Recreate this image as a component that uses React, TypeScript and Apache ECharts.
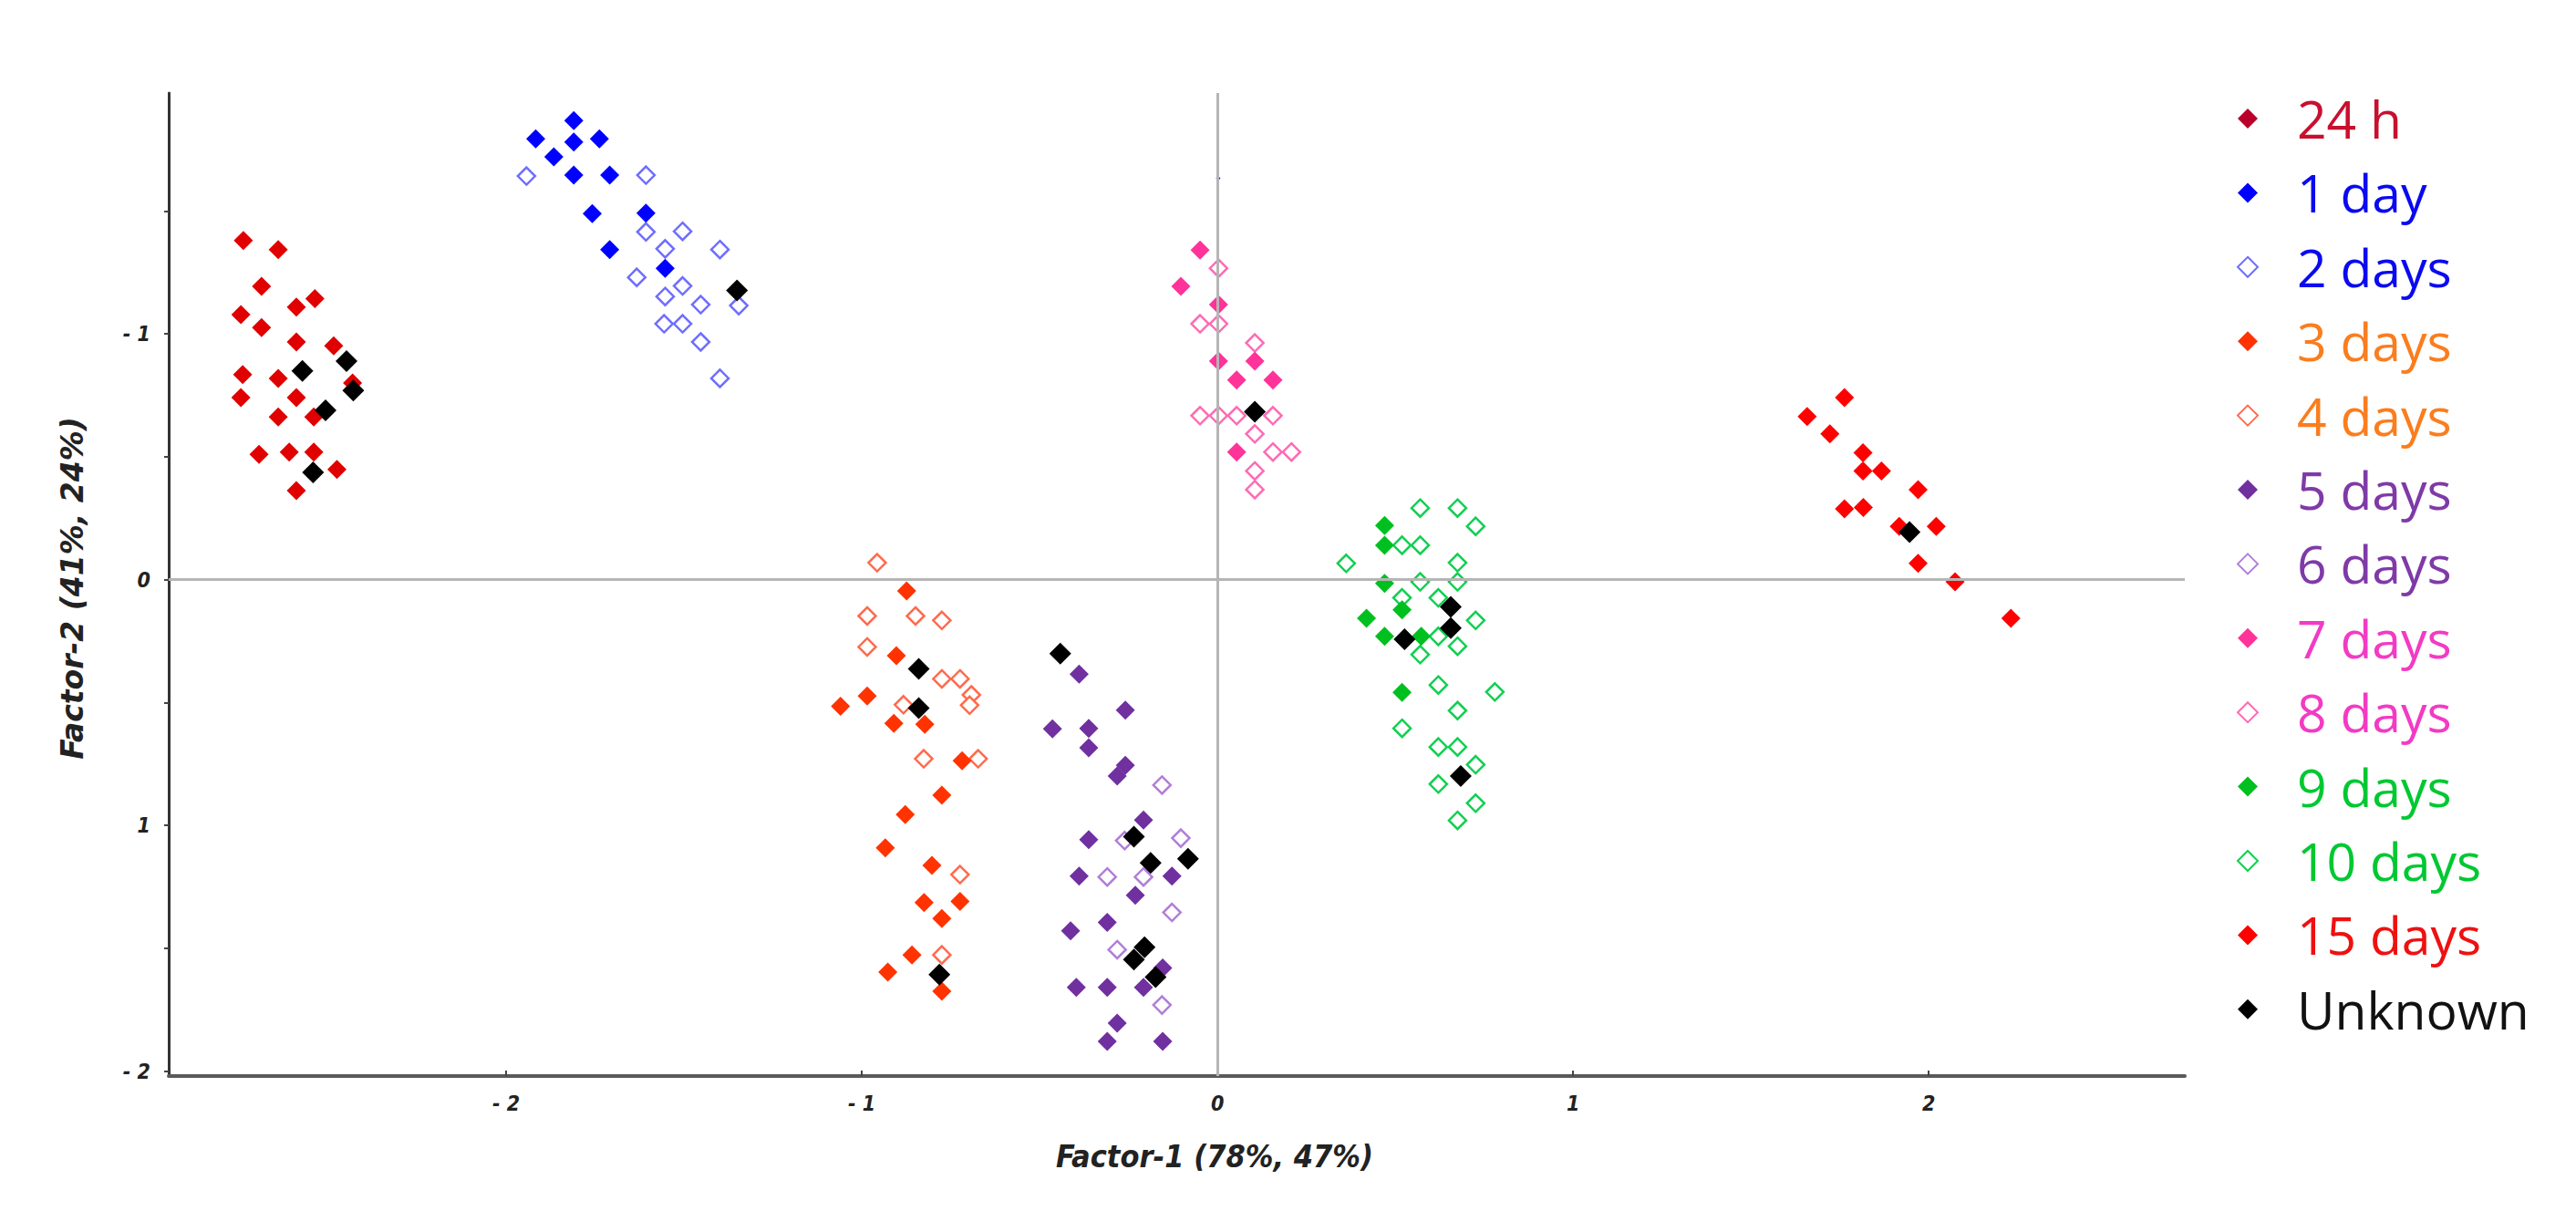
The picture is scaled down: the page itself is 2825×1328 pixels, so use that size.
import React, { useEffect, useRef } from "react";
import * as echarts from "echarts";

// ---- data (Factor-1, Factor-2) ----
const seriesNames = ["24 h", "1 day", "2 days", "3 days", "4 days", "5 days", "6 days", "7 days", "8 days", "9 days", "10 days", "15 days", "Unknown"];

const h24 = [[-2.739,-1.380],[-2.641,-1.343],[-2.688,-1.193],[-2.538,-1.143],[-2.590,-1.109],[-2.746,-1.078],[-2.688,-1.025],[-2.590,-0.967],[-2.485,-0.951],[-2.741,-0.834],[-2.641,-0.819],[-2.432,-0.800],[-2.746,-0.741],[-2.590,-0.741],[-2.641,-0.662],[-2.541,-0.662],[-2.695,-0.510],[-2.610,-0.519],[-2.541,-0.519],[-2.476,-0.448],[-2.590,-0.362]];
const day1 = [[-1.810,-1.868],[-1.917,-1.794],[-1.810,-1.781],[-1.738,-1.794],[-1.866,-1.720],[-1.810,-1.646],[-1.709,-1.646],[-1.758,-1.489],[-1.607,-1.491],[-1.709,-1.343],[-1.553,-1.267]];
const day1Stray = [0.002, -1.633];
const day2 = [[-1.943,-1.642],[-1.607,-1.646],[-1.607,-1.415],[-1.504,-1.417],[-1.553,-1.346],[-1.399,-1.343],[-1.633,-1.230],[-1.504,-1.195],[-1.553,-1.152],[-1.453,-1.119],[-1.346,-1.115],[-1.556,-1.041],[-1.504,-1.041],[-1.453,-0.967],[-1.399,-0.819]];
const day3 = [[-0.874,0.046],[-0.903,0.309],[-0.985,0.474],[-1.060,0.515],[-0.910,0.585],[-0.823,0.589],[-0.718,0.737],[-0.775,0.877],[-0.878,0.956],[-0.934,1.091],[-0.803,1.163],[-0.825,1.314],[-0.724,1.309],[-0.775,1.379],[-0.859,1.527],[-0.927,1.597],[-0.775,1.675]];
const day4 = [[-0.957,-0.069],[-0.985,0.148],[-0.849,0.148],[-0.775,0.166],[-0.985,0.274],[-0.775,0.404],[-0.724,0.404],[-0.692,0.469],[-0.697,0.511],[-0.883,0.509],[-0.826,0.729],[-0.673,0.729],[-0.724,1.200],[-0.775,1.527]];
const day5 = [[-0.389,0.385],[-0.259,0.531],[-0.464,0.607],[-0.362,0.605],[-0.362,0.684],[-0.259,0.756],[-0.282,0.799],[-0.208,0.978],[-0.362,1.058],[-0.389,1.206],[-0.128,1.206],[-0.231,1.284],[-0.310,1.395],[-0.413,1.429],[-0.154,1.580],[-0.397,1.659],[-0.310,1.659],[-0.208,1.659],[-0.282,1.805],[-0.310,1.879],[-0.154,1.879]];
const day6 = [[-0.156,0.836],[-0.261,1.062],[-0.103,1.052],[-0.310,1.210],[-0.208,1.210],[-0.128,1.354],[-0.282,1.506],[-0.156,1.731]];
const day7 = [[-0.049,-1.341],[-0.103,-1.193],[0.003,-1.119],[0.003,-0.889],[0.105,-0.889],[0.054,-0.812],[0.156,-0.812],[0.054,-0.519]];
const day8 = [[0.003,-1.267],[-0.049,-1.041],[0.003,-1.041],[0.105,-0.963],[-0.049,-0.667],[0.003,-0.667],[0.054,-0.667],[0.156,-0.667],[0.105,-0.593],[0.156,-0.519],[0.208,-0.519],[0.105,-0.442],[0.105,-0.366]];
const day9 = [[0.470,-0.220],[0.470,-0.140],[0.470,0.015],[0.519,0.123],[0.419,0.157],[0.470,0.231],[0.573,0.231],[0.519,0.459]];
const day10 = [[0.570,-0.291],[0.675,-0.291],[0.726,-0.217],[0.519,-0.140],[0.570,-0.140],[0.362,-0.066],[0.675,-0.069],[0.570,0.009],[0.675,0.009],[0.519,0.074],[0.621,0.074],[0.726,0.166],[0.621,0.231],[0.570,0.305],[0.675,0.271],[0.621,0.429],[0.780,0.457],[0.675,0.533],[0.519,0.605],[0.621,0.681],[0.675,0.681],[0.726,0.753],[0.621,0.832],[0.726,0.910],[0.675,0.980]];
const day15 = [[1.763,-0.741],[1.658,-0.664],[1.722,-0.593],[1.815,-0.516],[1.815,-0.442],[1.867,-0.442],[1.970,-0.366],[1.763,-0.288],[1.816,-0.294],[1.917,-0.217],[2.021,-0.217],[1.970,-0.066],[2.074,0.009],[2.231,0.157]];
const unknown = [[-2.449,-0.889],[-2.573,-0.849],[-2.430,-0.769],[-2.508,-0.689],[-2.543,-0.436],[-1.351,-1.177],[0.105,-0.683],[-0.840,0.363],[-0.840,0.523],[-0.782,1.607],[-0.442,0.301],[-0.235,1.046],[-0.188,1.153],[-0.083,1.136],[-0.235,1.546],[-0.205,1.496],[-0.174,1.617],[0.656,0.111],[0.656,0.197],[0.526,0.243],[0.684,0.799],[1.946,-0.193]];

const seriesData = [h24, day1, day2, day3, day4, day5, day6, day7, day8, day9, day10, day15, unknown];

const xTickValues = [-2, -1, 0, 1, 2];
const xTickLabels = ["- 2", "- 1", "0", "1", "2"];
const yTickValues = [-1, 0, 1, 2];
const yTickLabels = ["- 1", "0", "1", "- 2"];
const yMinorTicks = [-1.5, -1, -0.5, 0, 0.5, 1, 1.5, 2];

const xTitle = "Factor-1 (78%, 47%)";
const yTitle = "Factor-2 (41%, 24%)";

// ---- styles ----
const markerColors = ["#e00000", "#0000ff", "#6e6eff", "#ff3300", "#ff6a4d", "#7030a0", "#b07ed8", "#ff3399", "#ff6ab4", "#00c020", "#10d050", "#ff0000", "#000000"];
const hollowFlags = [false, false, true, false, true, false, true, false, true, false, true, false, false];
const legendTextColors = ["#c8102e", "#0a0af0", "#0a0af0", "#fa7d1e", "#fa7d1e", "#7f3aa8", "#7f3aa8", "#f23bc4", "#f23bc4", "#00c832", "#00c832", "#ee1111", "#111111"];
const legendIconOverride: Record<number, string> = { 0: "#b8002a" };

export default function App() {
  const ref = useRef<HTMLDivElement>(null);
  useEffect(() => {
    if (!ref.current) return;
    const chart = echarts.init(ref.current, undefined, { renderer: "svg" });

    const condensed = "'Liberation Sans Narrow', 'DejaVu Sans Condensed', 'DejaVu Sans', sans-serif";
    const labelFont = {
      fontFamily: condensed,
      fontStyle: "italic",
      fontWeight: "bold",
      fontSize: 23,
      color: "#222",
    };

    const series: any[] = [
      {
        type: "scatter",
        data: [],
        silent: true,
        z: 1,
        markLine: {
          silent: true,
          animation: false,
          symbol: ["none", "none"],
          label: { show: false },
          lineStyle: { color: "#b5b5b5", width: 3, type: "solid" },
          data: [{ xAxis: 0 }, { yAxis: 0 }],
        },
      },
    ];

    seriesNames.forEach((name, i) => {
      const hollow = hollowFlags[i];
      const isUnknown = name === "Unknown";
      let data: any[] = seriesData[i].map((p) => p);
      if (name === "1 day") {
        data = data.concat([{ value: day1Stray, symbolSize: 5 }]);
      }
      series.push({
        name,
        type: "scatter",
        symbol: "diamond",
        symbolSize: isUnknown ? 24 : hollow ? 19 : 21,
        z: isUnknown ? 5 : hollow ? 3 : 4,
        data,
        itemStyle: hollow
          ? { color: "#ffffff", borderColor: markerColors[i], borderWidth: 2.5, opacity: 1 }
          : { color: markerColors[i], opacity: 1 },
        emphasis: { disabled: true },
      });
    });

    const option: any = {
      animation: false,
      backgroundColor: "#ffffff",
      grid: { left: 185, top: 102, right: 429, bottom: 148, containLabel: false },
      xAxis: {
        type: "value",
        min: -2.949,
        max: 2.72,
        splitLine: { show: false },
        axisLine: { show: true, onZero: false, lineStyle: { color: "#5a5a5a", width: 4 } },
        axisTick: { show: true, inside: true, length: 6, customValues: xTickValues, lineStyle: { color: "#444", width: 2 } },
        axisLabel: {
          ...labelFont,
          margin: 18,
          customValues: xTickValues,
          formatter: (v: number) => {
            const k = xTickValues.findIndex((t) => Math.abs(t - v) < 1e-6);
            return k >= 0 ? xTickLabels[k] : "";
          },
        },
      },
      yAxis: {
        type: "value",
        inverse: true,
        min: -1.98,
        max: 2.02,
        splitLine: { show: false },
        axisLine: { show: true, onZero: false, lineStyle: { color: "#333", width: 3 } },
        axisTick: { show: true, length: 5, customValues: yMinorTicks, lineStyle: { color: "#444", width: 2 } },
        axisLabel: {
          ...labelFont,
          margin: 20,
          customValues: yTickValues,
          formatter: (v: number) => {
            const k = yTickValues.findIndex((t) => Math.abs(t - v) < 1e-6);
            return k >= 0 ? yTickLabels[k] : "";
          },
        },
      },
      legend: {
        orient: "vertical",
        left: 2448,
        top: 95,
        itemWidth: 22,
        itemHeight: 22,
        itemGap: 21.4,
        selectedMode: false,
        textStyle: { fontFamily: "Open Sans", fontSize: 57, lineHeight: 60, padding: [0, 0, 0, 38] },
        data: seriesNames.map((name, i) => {
          const d: any = { name, textStyle: { color: legendTextColors[i] } };
          if (legendIconOverride[i]) d.itemStyle = { color: legendIconOverride[i] };
          if (hollowFlags[i]) d.itemStyle = { color: "#ffffff", borderColor: markerColors[i], borderWidth: 2 };
          return d;
        }),
      },
      graphic: [
        {
          type: "text",
          x: 1332,
          y: 1268,
          style: {
            text: xTitle,
            fontFamily: condensed,
            fontStyle: "italic",
            fontWeight: "bold",
            fontSize: 34,
            fill: "#222",
            align: "center",
            verticalAlign: "middle",
          },
        },
        {
          type: "text",
          x: 79,
          y: 645,
          rotation: Math.PI / 2,
          style: {
            text: yTitle,
            fontFamily: "DejaVu Sans",
            fontStyle: "italic",
            fontWeight: "bold",
            fontSize: 33,
            fill: "#222",
            align: "center",
            verticalAlign: "middle",
          },
        },
      ],
      series,
    };

    chart.setOption(option);
    return () => chart.dispose();
  }, []);

  return <div ref={ref} style={{ position: "absolute", left: 0, top: 0, width: 2825, height: 1328 }} />;
}
